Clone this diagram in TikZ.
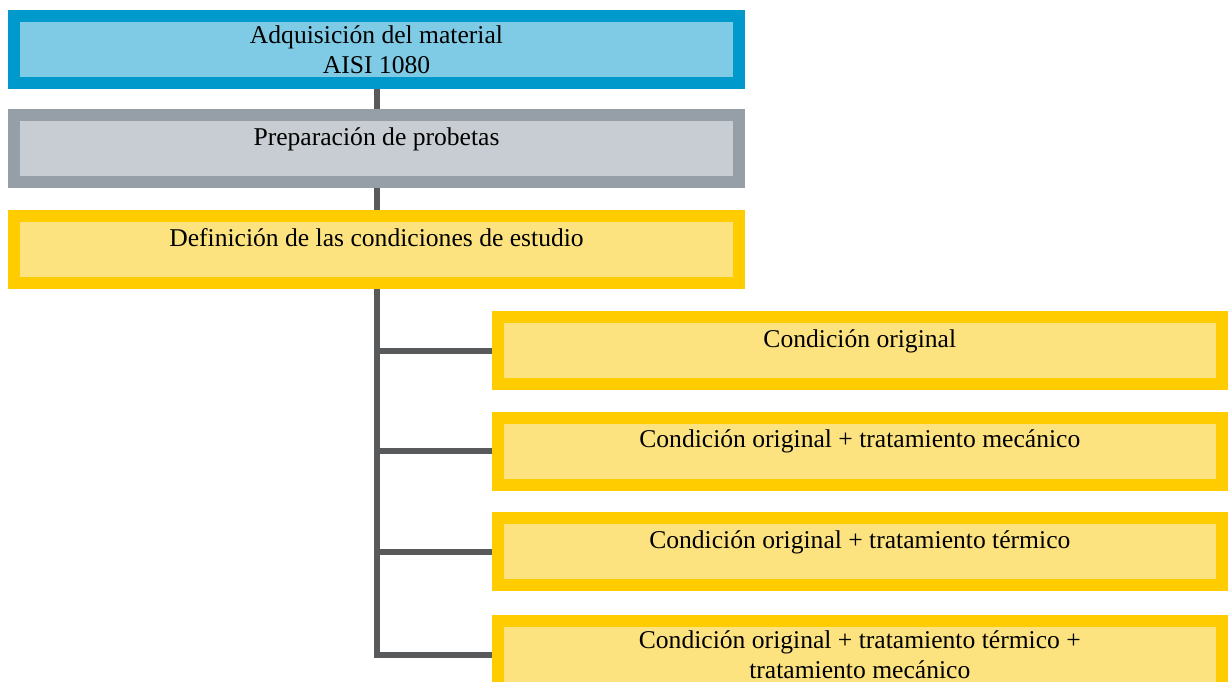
\documentclass[tikz,border=0pt]{standalone}
\usepackage{fontspec}
\setmainfont{Liberation Serif}
\usepackage{tikz}

\definecolor{adqline}{RGB}{0,153,204}
\definecolor{adqfill}{RGB}{127,203,229}
\definecolor{prepline}{RGB}{150,158,168}
\definecolor{prepfill}{RGB}{200,204,211}
\definecolor{condline}{RGB}{255,204,0}
\definecolor{condfill}{RGB}{253,227,128}
\definecolor{linkgray}{RGB}{88,89,91}

\begin{document}
\begin{tikzpicture}
            [x=0.5pt,y=-0.5pt,
             every node/.style={rectangle,line width=6pt,minimum width=362.3pt,minimum height=33.5pt,
                                inner sep=0pt,align=center,font=\fontsize{12.8}{15}\selectfont},
             adq/.style={draw=adqline,fill=adqfill},
             prep/.style={draw=prepline,fill=prepfill},
             cond/.style={draw=condline,fill=condfill},
             onerow/.style={text height=9pt,text depth=12.5pt},
             tworow/.style={yshift=-1pt},
             link/.style={draw=linkgray,line width=3pt}]
            \useasboundingbox (0,0) rectangle (1229,681);

            \node[adq,tworow] (A) at (376.5,47.5) {Adquisición del material\\AISI 1080};
            \node[prep,onerow] (P) at (376.5,148.5) {Preparación de probetas};
            \node[cond,onerow] (D) at (376.5,249.5) {Definición de las condiciones de estudio};

            \node[cond,onerow] (C1) at (859.8,350.5) {Condición original};
            \node[cond,onerow] (C2) at (859.8,451) {Condición original + tratamiento mecánico};
            \node[cond,onerow] (C3) at (859.8,551.5) {Condición original + tratamiento térmico};
            \node[cond,tworow] (C4) at (859.8,652.5) {Condición original + tratamiento térmico +\\tratamiento mecánico};

            \path [link] (A) edge (P);
            \path [link] (P) edge (D);
            \draw [link] (D.south) |- (C4.west);
            \foreach \i in {1,2,3}
                \draw [link] (D.south |- C\i.west) -- (C\i.west);
        \end{tikzpicture}
\end{document}
